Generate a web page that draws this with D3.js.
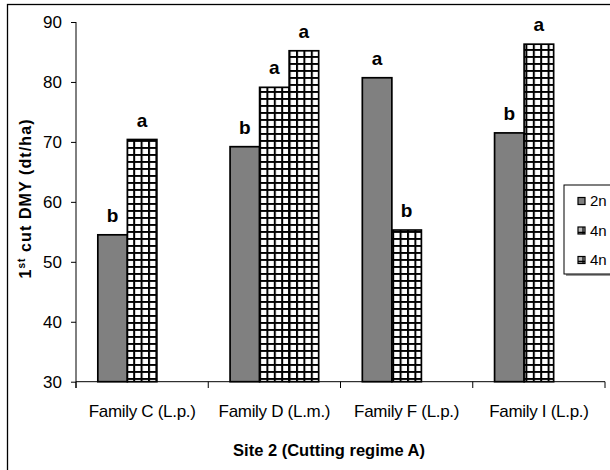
<!DOCTYPE html>
<html>
<head>
<meta charset="utf-8">
<script src="https://cdn.jsdelivr.net/npm/d3@7"></script>
<style>
  html, body { margin: 0; padding: 0; background: #fff; }
  svg { display: block; }
  text { font-family: Arial, "Liberation Sans", sans-serif; fill: #000; }
</style>
</head>
<body>
<svg id="chart" width="610" height="470"></svg>
<script>
// ---- data ----
const categories = ["Family C (L.p.)", "Family D (L.m.)", "Family F (L.p.)", "Family I (L.p.)"];
const seriesNames = ["2n", "4n", "4n"];
const values2n  = [54.5, 69.2, 80.7, 71.5];
const values4nA = [70.4, 79.1, 55.3, 86.3];
const values4nB = [null, 85.2, null, null];
const letters2n  = ["b", "b", "a", "b"];
const letters4nA = ["a", "a", "b", "a"];
const letters4nB = [null, "a", null, null];
const yTicks = [30, 40, 50, 60, 70, 80, 90];
const yTitle = ["1", "st", " cut DMY (dt/ha)"];
const xTitle = "Site 2 (Cutting regime A)";

const seriesValues = [values2n, values4nA, values4nB];
const seriesLetters = [letters2n, letters4nA, letters4nB];

const svg = d3.select("#chart");

// patterns
const defs = svg.append("defs");
const pat = defs.append("pattern").attr("id", "grid")
  .attr("patternUnits", "userSpaceOnUse")
  .attr("width", 7.4).attr("height", 7.0);
pat.append("rect").attr("width", 7.4).attr("height", 7.0).attr("fill", "#fff");
pat.append("rect").attr("x", 0).attr("y", 0).attr("width", 2).attr("height", 7.0).attr("fill", "#000");
pat.append("rect").attr("x", 0).attr("y", 0).attr("width", 7.4).attr("height", 1.9).attr("fill", "#000");
const fills = ["#808080", "url(#grid)", "url(#grid)"];

// outer frame
svg.append("rect").attr("x", 7.5).attr("y", 4.5).attr("width", 640).attr("height", 500)
  .attr("fill", "none").attr("stroke", "#000").attr("stroke-width", 1.3);

// scales
const y = d3.scaleLinear().domain([30, 90]).range([381.7, 22]);
const x0 = d3.scaleBand().domain(categories).range([76, 605]).paddingInner(0).paddingOuter(0);
const groupW = 88.6;
const x1 = d3.scaleBand().domain([0, 1, 2]).range([0, groupW]);
const groupOffset = (x0.bandwidth() - groupW) / 2;

// y axis
const yAxis = d3.axisLeft(y).tickValues(yTicks).tickSize(5).tickPadding(9).tickFormat(d3.format("d"));
const gy = svg.append("g").attr("transform", "translate(76,0)").call(yAxis);
gy.select(".domain").remove();
gy.selectAll(".tick line").attr("stroke", "#000").attr("stroke-width", 1);
gy.selectAll(".tick text").attr("font-size", 17).attr("font-family", "Arial, 'Liberation Sans', sans-serif");
svg.append("line").attr("x1", 76).attr("x2", 76).attr("y1", y(90)).attr("y2", 388)
  .attr("stroke", "#000").attr("stroke-width", 1);

// bars
categories.forEach((cat, ci) => {
  seriesValues.forEach((vals, si) => {
    const v = vals[ci];
    if (v == null) return;
    const bx = x0(cat) + groupOffset + x1(si);
    const bw = x1.bandwidth();
    svg.append("rect")
      .attr("x", bx).attr("y", y(v))
      .attr("width", bw).attr("height", y(30) - y(v))
      .attr("fill", fills[si]).attr("stroke", "#000").attr("stroke-width", 1.7);
    const lt = seriesLetters[si][ci];
    if (lt) {
      svg.append("text").attr("x", bx + bw / 2).attr("y", y(v) - 13)
        .attr("text-anchor", "middle").attr("font-size", 19).attr("font-weight", "bold")
        .text(lt);
    }
  });
});

// x axis
const xAxis = d3.axisBottom(x0).tickSize(0).tickPadding(0);
const gx = svg.append("g").attr("transform", `translate(0,${y(30)})`).call(xAxis);
gx.select(".domain").attr("stroke", "#000").attr("d", `M76,0H605`);
gx.selectAll(".tick line").remove();
gx.selectAll(".tick text").attr("font-size", 17).attr("dy", null).attr("y", 35)
  .attr("letter-spacing", -0.3).attr("font-family", "Arial, 'Liberation Sans', sans-serif");
// category boundary ticks
const bounds = categories.map(c => x0(c)).concat([x0(categories[categories.length - 1]) + x0.bandwidth()]);
svg.selectAll(".ctick").data(bounds).enter().append("line")
  .attr("x1", d => d).attr("x2", d => d).attr("y1", y(30)).attr("y2", 388)
  .attr("stroke", "#000").attr("stroke-width", 1);

// y title
const yt = svg.append("text").attr("transform", "translate(31,198.5) rotate(-90)")
  .attr("text-anchor", "middle").attr("font-size", 16).attr("font-weight", "bold")
  .attr("letter-spacing", 1.1);
yt.append("tspan").text(yTitle[0]);
yt.append("tspan").attr("font-size", 10).attr("dy", -6).text(yTitle[1]);
yt.append("tspan").attr("dy", 6).text(yTitle[2]);

// x title
svg.append("text").attr("x", 329).attr("y", 456).attr("text-anchor", "middle")
  .attr("font-size", 16.5).attr("font-weight", "bold").text(xTitle);

// legend
const lg = svg.append("g");
lg.append("rect").attr("x", 566).attr("y", 187).attr("width", 60).attr("height", 89)
  .attr("fill", "#999");
lg.append("rect").attr("x", 564).attr("y", 185).attr("width", 60).attr("height", 89)
  .attr("fill", "#fff").attr("stroke", "#000").attr("stroke-width", 1);
const legY = [201, 230.5, 260];
seriesNames.forEach((name, i) => {
  lg.append("rect").attr("x", 578).attr("y", legY[i] - 3.5).attr("width", 7).attr("height", 7)
    .attr("fill", i === 0 ? "#808080" : "#bbb").attr("stroke", "#000").attr("stroke-width", 1.2);
  if (i > 0) {
    lg.append("line").attr("x1", 578).attr("x2", 585).attr("y1", legY[i] + (i === 1 ? 2 : 1.5))
      .attr("y2", legY[i] + (i === 1 ? 2 : 1.5)).attr("stroke", "#000").attr("stroke-width", 1.5);
    lg.append("line").attr("x1", 583).attr("x2", 583).attr("y1", legY[i] - 3.5)
      .attr("y2", legY[i] + 3.5).attr("stroke", "#000").attr("stroke-width", 1.2);
  }
  lg.append("text").attr("x", 590).attr("y", legY[i] + 5).attr("font-size", 15).text(name);
});
</script>
</body>
</html>
